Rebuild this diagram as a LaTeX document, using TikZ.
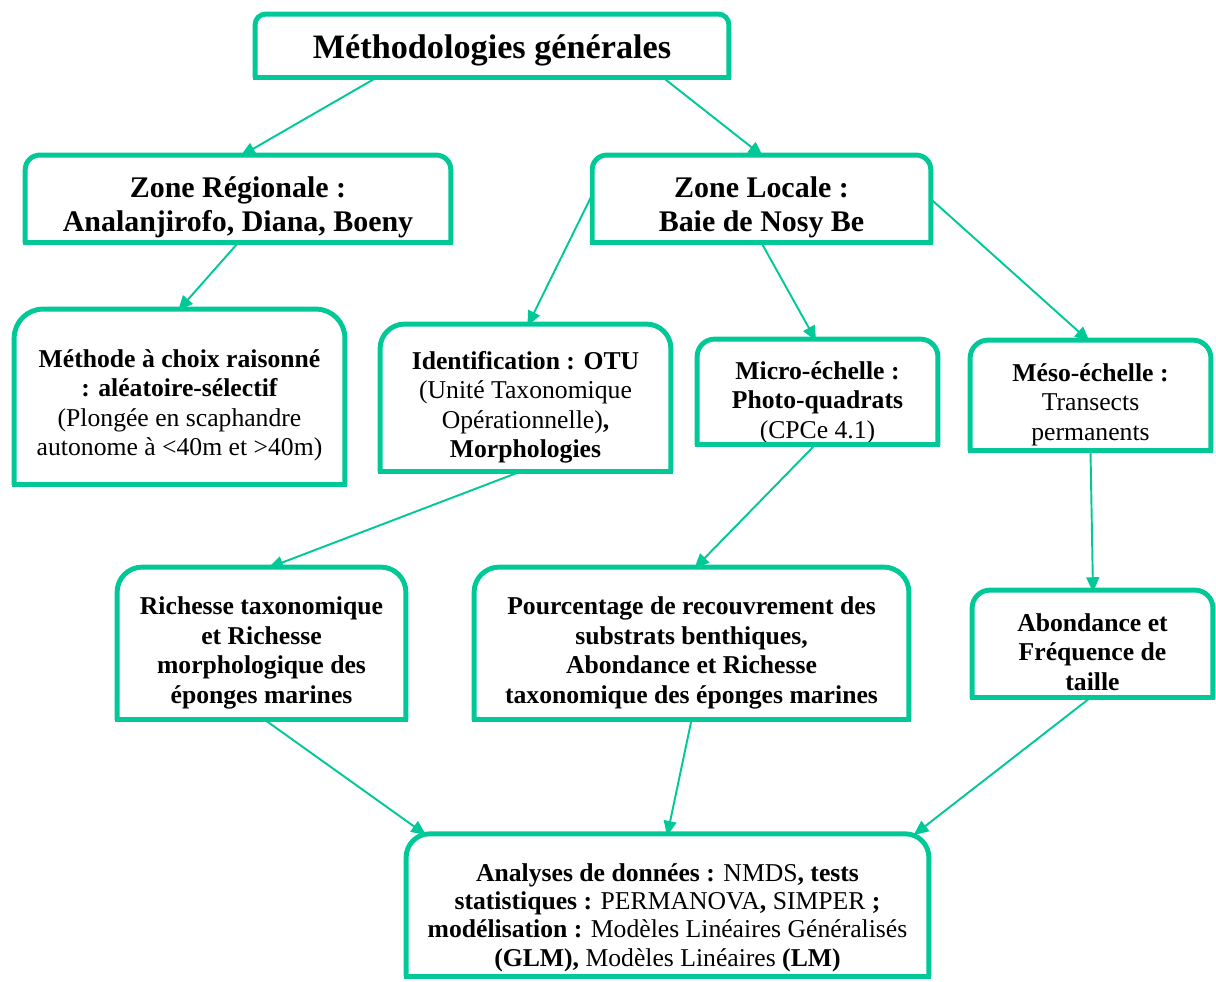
\documentclass[tikz,border=0pt]{standalone}
\usepackage{fontspec}
\setmainfont{Liberation Serif}
\usetikzlibrary{calc,arrows.meta}
\definecolor{vert}{RGB}{0,201,151}
\newcommand{\haut}[1]{\rule{0pt}{#1}}

\begin{document}
\begin{tikzpicture}[x=0.01643cm, y=-0.01643cm,
  box/.style={inner sep=0pt, align=center, font=\fontsize{12}{13.8}\selectfont},
  grand/.style={font=\fontsize{14}{16.1}\selectfont\bfseries},
  cadre/.style={draw=vert, line width=2.3pt},
  fleche/.style={draw=vert, line width=0.9pt, -{Triangle[length=7pt, width=6pt]}, shorten >=-1pt}]
  \useasboundingbox (0,0) rectangle (1216,981);

  \node[box, font=\fontsize{16}{18}\selectfont\bfseries, minimum width=7.77cm, minimum height=1.035cm] (top) at (492,46) {\haut{15pt}Méthodologies générales};
  \node[box, grand, minimum width=6.98cm, minimum height=1.43cm] (reg) at (238,199) {\haut{17.5pt}Zone Régionale :\\Analanjirofo, Diana, Boeny};
  \node[box, grand, minimum width=5.55cm, minimum height=1.43cm] (loc) at (761.5,199) {\haut{17.5pt}Zone Locale :\\Baie de Nosy Be};

  \node[box, minimum width=5.42cm, minimum height=2.875cm] (meth) at (179.5,397) {\haut{16pt}\textbf{Méthode à choix raisonné}\\\textbf{: aléatoire-sélectif}\\(Plongée en scaphandre\\autonome à <40m et >40m)};
  \node[box, minimum width=4.765cm, minimum height=2.415cm] (ident) at (525.5,398) {\haut{17pt}\textbf{Identification : OTU}\\(Unité Taxonomique\\Opérationnelle)\textbf{,}\\\textbf{Morphologies}};
  \node[box, minimum width=3.943cm, minimum height=1.725cm] (micro) at (817.5,392) {\haut{18pt}\textbf{Micro-échelle :}\\\textbf{Photo-quadrats}\\(CPCe 4.1)};
  \node[box, minimum width=3.943cm, minimum height=1.807cm] (meso) at (1090.5,395.5) {\haut{17pt}\textbf{Méso-échelle :}\\Transects\\permanents};

  \node[box, font=\fontsize{12}{13.8}\selectfont\bfseries, minimum width=4.732cm, minimum height=2.497cm] (rich) at (261.5,643.5) {\haut{17pt}Richesse taxonomique\\et Richesse\\morphologique des\\éponges marines};
  \node[box, font=\fontsize{12}{13.8}\selectfont\bfseries, minimum width=7.131cm, minimum height=2.497cm] (pourc) at (691.5,643.5) {\haut{17pt}Pourcentage de recouvrement des\\substrats benthiques,\\Abondance et Richesse\\taxonomique des éponges marines};
  \node[box, font=\fontsize{12}{13.8}\selectfont\bfseries, minimum width=3.943cm, minimum height=1.758cm] (abond) at (1092.5,644) {\haut{16pt}Abondance et\\Fréquence de\\taille};

  \node[box, font=\fontsize{12}{13.3}\selectfont, minimum width=8.576cm, minimum height=2.325cm] (anal) at (667.5,905) {\haut{20pt}\textbf{Analyses de données :} NMDS\textbf{, tests}\\\textbf{statistiques :} PERMANOVA\textbf{,} SIMPER \textbf{;}\\\textbf{modélisation :} Modèles Linéaires Généralisés\\\textbf{(GLM),} Modèles Linéaires \textbf{(LM)}};

  % cadres : coins du haut arrondis
  \foreach \n/\r in {top/4.9, reg/6.8, loc/6.8, meth/13.5, ident/11.4, micro/8.2, meso/8.4, rich/11.7, pourc/11.7, abond/8.4, anal/11} {
    \draw[cadre, rounded corners=\r pt] (\n.south west) -- (\n.north west) -- (\n.north east) -- (\n.south east);
    \draw[cadre, line cap=rect] (\n.south west) -- (\n.south east);
  }

  \draw[fleche] ($(top.south west)!0.255!(top.south east)$) -- ($(reg.north west)!0.51!(reg.north east)$);
  \draw[fleche] ($(top.south west)!0.862!(top.south east)$) -- (loc.north);
  \draw[fleche] (reg.south) -- (meth.north);
  \draw[fleche] ($(loc.north west)!0.45!(loc.south west)$) -- ($(ident.north west)!0.51!(ident.north east)$);
  \draw[fleche] (loc.south) -- ($(micro.north west)!0.49!(micro.north east)$);
  \draw[fleche] (loc.east) -- ($(meso.north west)!0.49!(meso.north east)$);
  \draw[fleche] ($(ident.south west)!0.48!(ident.south east)$) -- ($(rich.north west)!0.53!(rich.north east)$);
  \draw[fleche] ($(micro.south west)!0.49!(micro.south east)$) -- ($(pourc.north west)!0.51!(pourc.north east)$);
  \draw[fleche] (meso.south) -- ($(abond.north west)!0.502!(abond.north east)$);
  \draw[fleche] ($(rich.south west)!0.512!(rich.south east)$) -- ($(anal.north west)!0.035!(anal.north east)$);
  \draw[fleche] (pourc.south) -- (anal.north);
  \draw[fleche] ($(abond.south west)!0.49!(abond.south east)$) -- ($(anal.north west)!0.974!(anal.north east)$);
\end{tikzpicture}
\end{document}
